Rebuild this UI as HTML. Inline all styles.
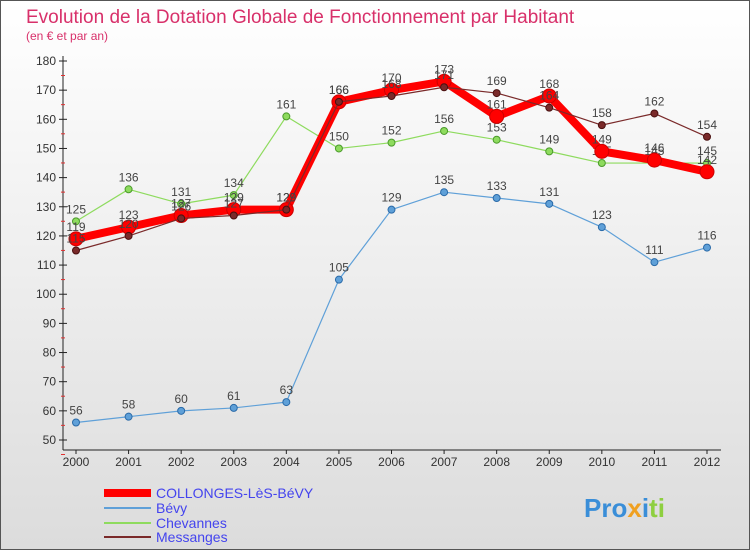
<!DOCTYPE html>
<html><head><meta charset="utf-8"><style>
body{margin:0;width:750px;height:550px;overflow:hidden;font-family:"Liberation Sans",sans-serif}
#wrap{position:absolute;left:0;top:0;width:748px;height:548px;border:1px solid #555;background:linear-gradient(#ffffff,#dcdcdc)}
</style></head><body>
<div id="wrap">
<svg id="chart" width="748" height="548" font-family="Liberation Sans, sans-serif">
<text x="25" y="22" font-size="19" fill="#d8306a">Evolution de la Dotation Globale de Fonctionnement par Habitant</text>
<text x="25" y="39" font-size="12" fill="#d8306a">(en € et par an)</text>
<g id="axes"></g><g id="series"></g>
<g>
<line x1="103" y1="492" x2="150" y2="492" stroke="#ff0000" stroke-width="8"/>
<text x="155" y="497" font-size="14" fill="#4444ee">COLLONGES-LèS-BéVY</text>
<line x1="103" y1="507" x2="150" y2="507" stroke="#5fa0d8" stroke-width="2"/>
<text x="155" y="512" font-size="14" fill="#4444ee">Bévy</text>
<line x1="103" y1="522" x2="150" y2="522" stroke="#8edb5e" stroke-width="2"/>
<text x="155" y="527" font-size="14" fill="#4444ee">Chevannes</text>
<line x1="103" y1="536" x2="150" y2="536" stroke="#7a2a2a" stroke-width="2"/>
<text x="155" y="541" font-size="14" fill="#4444ee">Messanges</text>
</g>
<text x="583" y="516" font-size="26" font-weight="bold" fill="#3a8ed8">Pro<tspan fill="#f0a020">x</tspan>i<tspan fill="#8ecf40">ti</tspan></text>
</svg></div>
<script>
const years=[2000,2001,2002,2003,2004,2005,2006,2007,2008,2009,2010,2011,2012];
const yTicks=[50,60,70,80,90,100,110,120,130,140,150,160,170,180];
const collonges=[119,123,127,129,129,166,170,173,161,168,149,146,142];
const bevy=[56,58,60,61,63,105,129,135,133,131,123,111,116];
const chevannes=[125,136,131,134,161,150,152,156,153,149,145,145,145];
const messanges=[115,120,126,127,129,166,168,171,169,164,158,162,154];
const NS="http://www.w3.org/2000/svg";
const xs=i=>75+i*(706-75)/(years.length-1);
const ys=v=>439-(v-50)*(439-60)/130;
function mk(tag,attrs,parent){const e=document.createElementNS(NS,tag);for(const k in attrs)e.setAttribute(k,attrs[k]);parent.appendChild(e);return e;}
const ax=document.getElementById('axes');
let a=mk('line',{x1:62,y1:55,x2:62,y2:449,stroke:'#222'},ax);


a=mk('line',{x1:62,y1:449,x2:720,y2:449,stroke:'#222'},ax);


yTicks.forEach(t=>{const y=ys(t);
mk('line',{x1:58,y1:y,x2:66,y2:y,stroke:'#222'},ax);
mk('line',{x1:60,y1:y+14.5,x2:64,y2:y+14.5,stroke:'#e03030'},ax);
const tx=mk('text',{x:55,y:y+4,'font-size':12,fill:'#333','text-anchor':'end'},ax);tx.textContent=t;

});
years.forEach((yr,i)=>{const x=xs(i);
mk('line',{x1:x,y1:449,x2:x,y2:453,stroke:'#222'},ax);
const tx=mk('text',{x:x,y:465,'font-size':12,fill:'#333','text-anchor':'middle'},ax);tx.textContent=yr;

});
const sg=document.getElementById('series');
function series(data,color,w,r,name,dark){
const g=mk('g',{},sg);


const pl=mk('polyline',{points:data.map((v,i)=>xs(i)+','+ys(v)).join(' '),fill:'none',stroke:color,'stroke-width':w,'stroke-linejoin':'round'},g);


data.forEach((v,i)=>{const c=mk('circle',{cx:xs(i),cy:ys(v),r:r,fill:color,stroke:dark,'stroke-width':1},g);


const t=mk('text',{x:xs(i),y:ys(v)-8,'font-size':12,fill:'#444','text-anchor':'middle'},g);t.textContent=v;

});
}
series(bevy,'#5fa0d8',1.2,3.5,'bevy','#2a6aa8');
series(chevannes,'#8edb5e',1.2,3.5,'chevannes','#4a9a2a');
series(collonges,'#ff0000',8,7,'collonges','#cc0000');
series(messanges,'#7a2a2a',1.2,3.5,'messanges','#4a1010');
</script>
</body></html>
